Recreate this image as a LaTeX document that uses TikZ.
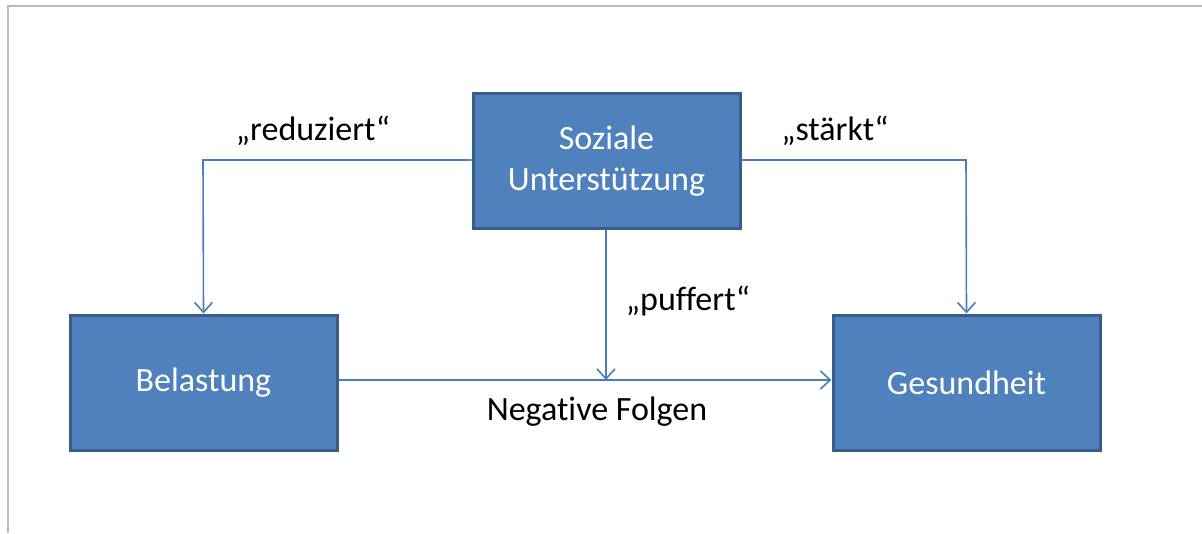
\documentclass[tikz,border=0pt]{standalone}
\usepackage{fontspec}
\setmainfont[Ligatures={NoCommon,NoRare}]{Carlito}
\usetikzlibrary{arrows.meta}
\definecolor{boxfill}{HTML}{4F81BD}
\definecolor{boxline}{HTML}{385D8A}
\definecolor{conn}{HTML}{4A7EBB}
\definecolor{frame}{HTML}{BBBBBB}
\begin{document}
\begin{tikzpicture}[x=1pt,y=-1pt,
  blk/.style={draw=boxline,line width=3pt,fill=boxfill,text=white,minimum width=267pt,minimum height=135pt,inner sep=0pt,font=\fontsize{34}{41}\selectfont,align=center},
  lbl/.style={font=\fontsize{34}{41}\selectfont,inner sep=0pt},
  cn/.style={draw=conn,line width=1.6pt},
  arr/.style={cn,-{Straight Barb[length=10pt,width=18pt,line width=1.6pt]}}]
\useasboundingbox (0,0) rectangle (1202,533);
\draw[frame,line width=1.5pt] (8,533) -- (8,6) -- (1202,6);
\node[blk] (soz) at (606.5,161) {Soziale\\Unterstützung};
\node[blk] (bel) at (203.5,382.5) {Belastung};
\node[blk] (ges) at (966.5,382.5) {Gesundheit};
\coordinate (lk) at (203,160);
\coordinate (rk) at (966,160);
\coordinate (mid) at (606,380);
\draw[arr] (soz.west |- lk) -- (lk) -- (bel.north);
\draw[arr] (soz.east |- rk) -- (rk) -- (ges.north);
\draw[arr] (soz.south -| mid) -- (mid);
\draw[arr] (bel.east |- mid) -- (ges.west |- mid);
\node[lbl] (t1) at (313,131) {„reduziert“};
\node[lbl] (t2) at (835,131) {„stärkt“};
\node[lbl] (t3) at (688,301) {„puffert“};
\node[lbl] (t4) at (597,412) {Negative Folgen};
\end{tikzpicture}
\end{document}
